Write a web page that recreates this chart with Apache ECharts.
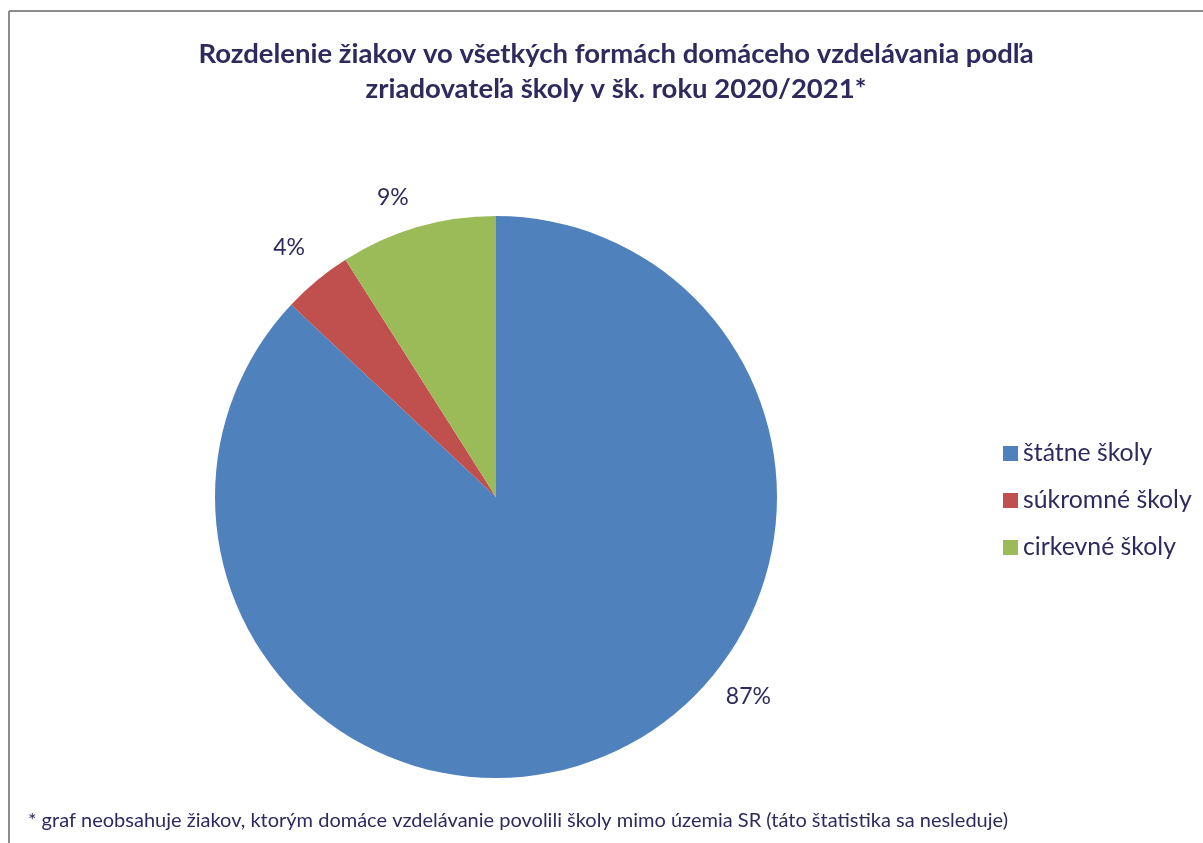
<!DOCTYPE html>
<html lang="sk">
<head>
    <meta charset="UTF-8">
    <title>Domáce vzdelávanie</title>
    <script src="https://cdn.jsdelivr.net/npm/echarts@6/dist/echarts.min.js"></script>
    <style>
        html, body { margin: 0; padding: 0; background: #fff; }
        #main { width: 1203px; height: 843px; }
    </style>
</head>
<body>
<div id="main"></div>
<script>
    // data
    var categories = ['štátne školy', 'súkromné školy', 'cirkevné školy'];
    var shares = [87, 4, 9];
    var colors = ['#4F81BD', '#C0504D', '#9BBB59'];

    var textColor = '#2E2A5E';
    var cx = 496, cy = 497, r = 281;

    var pieData = [];
    for (var i = 0; i < categories.length; i++) {
        pieData.push({ name: categories[i], value: shares[i], itemStyle: { color: colors[i] } });
    }

    // where excel put each percent label: angle (deg, ccw from 3 o'clock) and distance from centre
    var labelAngle = [-38.4, 129.7, 109];
    var labelDist = [322, 324, 317];

    var chart = echarts.init(document.getElementById('main'));
    var option = {
        backgroundColor: '#fff',
        textStyle: { fontFamily: 'Lato' },
        title: {
            text: 'Rozdelenie žiakov vo všetkých formách domáceho vzdelávania podľa\nzriadovateľa školy v šk. roku 2020/2021*',
            left: 611,
            textAlign: 'center',
            top: 32,
            textStyle: {
                fontFamily: 'Lato',
                fontSize: 27.5,
                fontWeight: 'bold',
                color: textColor,
                lineHeight: 35
            }
        },
        legend: {
            orient: 'vertical',
            left: 998,
            top: 436,
            itemWidth: 15,
            itemHeight: 15,
            itemGap: 22,
            icon: 'rect',
            textStyle: { fontFamily: 'Lato', fontSize: 24.8, color: textColor },
            data: categories
        },
        graphic: [
            { type: 'line', shape: { x1: 9, y1: 11, x2: 1203, y2: 11 }, style: { stroke: '#8c8c8c', lineWidth: 2 } },
            { type: 'line', shape: { x1: 9, y1: 11, x2: 9, y2: 843 }, style: { stroke: '#8c8c8c', lineWidth: 2 } },
            {
                type: 'text', left: 28, top: 811,
                style: {
                    text: '* graf neobsahuje žiakov, ktorým domáce vzdelávanie povolili školy mimo územia SR (táto štatistika sa nesleduje)',
                    font: '20px Lato', fill: textColor
                }
            }
        ],
        series: [{
            type: 'pie',
            center: [cx, cy],
            radius: r,
            startAngle: 90,
            clockwise: true,
            silent: true,
            label: {
                show: true,
                position: 'outside',
                formatter: '{c}%',
                fontFamily: 'Lato',
                fontSize: 23,
                color: textColor
            },
            labelLine: { show: false },
            labelLayout: function (params) {
                var idx = params.dataIndex;
                var rad = labelAngle[idx] * Math.PI / 180;
                return {
                    x: cx + labelDist[idx] * Math.cos(rad),
                    y: cy - labelDist[idx] * Math.sin(rad),
                    align: 'center',
                    verticalAlign: 'middle'
                };
            },
            data: pieData
        }]
    };
    chart.setOption(option);
</script>
</body>
</html>
